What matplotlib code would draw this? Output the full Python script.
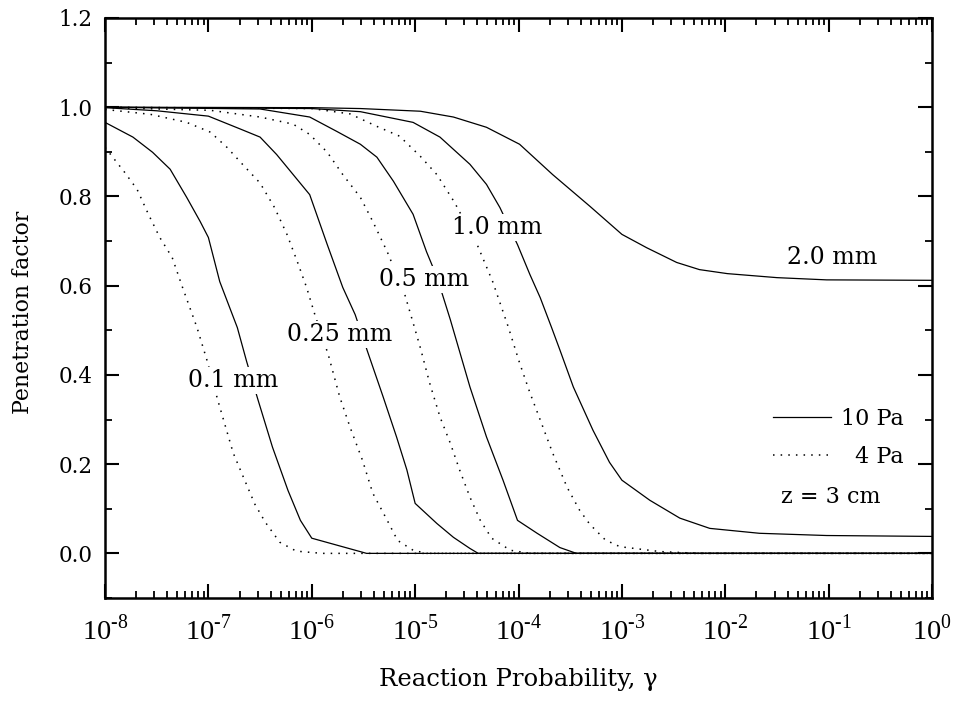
import numpy as np
import matplotlib.pyplot as plt
from matplotlib.ticker import FixedLocator, MultipleLocator, NullFormatter

plt.rcParams['font.family'] = 'DejaVu Serif'
plt.rcParams['mathtext.fontset'] = 'custom'
plt.rcParams['mathtext.rm'] = 'Liberation Serif'

# log10(gamma) and penetration factor
# 0.1 mm
lg_01_10 = [-8.0, -7.73, -7.54, -7.37, -7.21, -7.08, -7.0, -6.89, -6.72, -6.63, -6.52, -6.38, -6.23, -6.11, -6.0, -5.47, 0.0]
pf_01_10 = [0.966, 0.933, 0.899, 0.861, 0.798, 0.744, 0.708, 0.609, 0.506, 0.43, 0.344, 0.238, 0.141, 0.074, 0.034, 0.0, 0.0]
lg_01_4 = [-8.0, -7.81, -7.69, -7.58, -7.47, -7.35, -7.25, -7.11, -7.01, -6.91, -6.76, -6.66, -6.55, -6.45, -6.31, -6.15, -5.9, 0.0]
pf_01_4 = [0.91, 0.854, 0.816, 0.76, 0.708, 0.663, 0.596, 0.506, 0.43, 0.344, 0.225, 0.17, 0.11, 0.07, 0.025, 0.005, 0.0, 0.0]
# 0.25 mm
lg_025_10 = [-8.0, -7.5, -7.0, -6.69, -6.5, -6.34, -6.18, -6.02, -5.85, -5.7, -5.58, -5.46, -5.31, -5.18, -5.08, -5.0, -4.79, -4.63, -4.47, -4.39, 0.0]
pf_025_10 = [0.999, 0.992, 0.98, 0.951, 0.933, 0.894, 0.849, 0.804, 0.692, 0.596, 0.535, 0.452, 0.351, 0.261, 0.187, 0.112, 0.067, 0.036, 0.011, 0.0, 0.0]
lg_025_4 = [-8.0, -7.56, -7.21, -6.98, -6.82, -6.67, -6.5, -6.36, -6.24, -6.14, -6.05, -5.97, -5.84, -5.73, -5.63, -5.51, -5.41, -5.27, -5.17, -5.02, -4.89, 0.0]
pf_025_4 = [0.995, 0.984, 0.966, 0.944, 0.91, 0.872, 0.83, 0.775, 0.715, 0.654, 0.596, 0.535, 0.445, 0.351, 0.283, 0.209, 0.135, 0.074, 0.029, 0.007, 0.0, 0.0]
# 0.5 mm
lg_05_10 = [-8.0, -6.5, -6.02, -5.76, -5.53, -5.37, -5.21, -5.02, -4.89, -4.79, -4.66, -4.47, -4.31, -4.15, -4.01, -3.82, -3.6, -3.44, 0.0]
pf_05_10 = [1.0, 0.996, 0.978, 0.946, 0.917, 0.888, 0.834, 0.76, 0.676, 0.62, 0.524, 0.373, 0.261, 0.164, 0.074, 0.045, 0.013, 0.0, 0.0]
lg_05_4 = [-8.0, -6.98, -6.5, -6.18, -6.02, -5.85, -5.7, -5.53, -5.41, -5.27, -5.1, -5.02, -4.95, -4.86, -4.76, -4.66, -4.57, -4.47, -4.37, -4.26, -4.08, -3.89, 0.0]
pf_05_4 = [0.999, 0.993, 0.978, 0.962, 0.939, 0.899, 0.849, 0.798, 0.744, 0.676, 0.58, 0.517, 0.461, 0.382, 0.306, 0.247, 0.187, 0.126, 0.074, 0.034, 0.007, 0.0, 0.0]
# 1.0 mm
lg_10_10 = [-8.0, -6.0, -5.53, -5.02, -4.76, -4.47, -4.31, -4.18, -4.01, -3.89, -3.79, -3.68, -3.6, -3.47, -3.28, -3.12, -3.0, -2.73, -2.44, -2.15, -1.67, -1.02, 0.0]
pf_10_10 = [1.0, 0.997, 0.99, 0.966, 0.933, 0.872, 0.827, 0.775, 0.692, 0.625, 0.573, 0.506, 0.456, 0.373, 0.276, 0.204, 0.164, 0.119, 0.079, 0.056, 0.045, 0.040, 0.038]
lg_10_4 = [-8.0, -6.0, -5.63, -5.37, -5.15, -4.95, -4.79, -4.62, -4.4, -4.25, -4.1, -3.99, -3.89, -3.79, -3.67, -3.53, -3.41, -3.31, -3.16, -3.02, -2.63, -2.25, 0.0]
pf_10_4 = [1.0, 0.997, 0.985, 0.957, 0.935, 0.89, 0.849, 0.787, 0.692, 0.609, 0.508, 0.427, 0.36, 0.299, 0.225, 0.148, 0.097, 0.065, 0.03, 0.015, 0.004, 0.0, 0.0]
# 2.0 mm
lg_20_10 = [-8.0, -6.0, -5.53, -4.95, -4.63, -4.31, -3.99, -3.67, -3.31, -3.0, -2.76, -2.47, -2.25, -1.98, -1.5, -1.02, 0.0]
pf_20_10 = [1.0, 0.999, 0.997, 0.991, 0.978, 0.955, 0.917, 0.849, 0.778, 0.715, 0.685, 0.652, 0.636, 0.627, 0.618, 0.613, 0.612]

solid = [(lg_01_10, pf_01_10), (lg_025_10, pf_025_10), (lg_05_10, pf_05_10),
         (lg_10_10, pf_10_10), (lg_20_10, pf_20_10)]
dotted = [(lg_01_4, pf_01_4), (lg_025_4, pf_025_4), (lg_05_4, pf_05_4), (lg_10_4, pf_10_4)]

# curve labels: text, log10(gamma), value
labels = [('0.1 mm', -6.76, 0.387), ('0.25 mm', -5.73, 0.49), ('0.5 mm', -4.91, 0.613),
          ('1.0 mm', -4.21, 0.730), ('2.0 mm', -0.97, 0.663)]

exps = list(range(-8, 1))

fig = plt.figure(figsize=(9.59, 7.05), dpi=100)
ax = fig.add_axes([0.1095, 0.1518, 0.8624, 0.8227])

for lg, pf in solid:
    ax.plot(10 ** np.array(lg), pf, color='black', lw=0.9)
for lg, pf in dotted:
    ax.plot(10 ** np.array(lg), pf, color='black', lw=1.1, linestyle=(0, (1, 4)))

for txt, lg, v in labels:
    ax.text(10 ** lg, v, txt, fontsize=17, ha='center', va='center',
            bbox=dict(facecolor='white', edgecolor='none', pad=1.5))

h1, = ax.plot([], [], color='black', lw=0.9)
h2, = ax.plot([], [], color='black', lw=1.1, linestyle=(0, (1, 4)))
ax.legend([h1, h2], ['10 Pa', '\u20074 Pa'], loc='center left', bbox_to_anchor=(0.808, 0.276),
          frameon=False, borderpad=0, borderaxespad=0, handlelength=2.6,
          handletextpad=0.45, labelspacing=0.72, fontsize=16)
ax.text(0.878, 0.174, 'z = 3 cm', transform=ax.transAxes, ha='center', va='center', fontsize=16)

ax.set_xscale('log')
ax.set_xlim(1e-8, 1e0)
ax.set_ylim(-0.1, 1.2)
ax.set_xticks([10.0 ** e for e in exps])
ax.set_xticklabels(['$10^{\u2010%d}$' % -e if e < 0 else '$10^{%d}$' % e for e in exps])
ax.xaxis.set_minor_locator(FixedLocator([m * 10.0 ** e for e in exps[:-1] for m in range(2, 10)]))
ax.xaxis.set_minor_formatter(NullFormatter())
ax.set_yticks([0.0, 0.2, 0.4, 0.6, 0.8, 1.0, 1.2])
ax.set_yticklabels(['0.0', '0.2', '0.4', '0.6', '0.8', '1.0', '1.2'])
ax.yaxis.set_minor_locator(MultipleLocator(0.1))

ax.tick_params(which='both', direction='in', top=True, right=True)
ax.tick_params(which='major', length=10, width=1.5)
ax.tick_params(which='minor', length=5, width=1.3)
ax.tick_params(axis='y', labelsize=15.5, pad=9)
ax.tick_params(axis='x', labelsize=20.5, pad=12)
for s in ax.spines.values():
    s.set_linewidth(1.8)

ax.set_xlabel('Reaction Probability, \u03b3', fontsize=17.5)
ax.set_ylabel('Penetration factor', fontsize=15.8)
ax.xaxis.set_label_coords(0.5, -0.12)
ax.yaxis.set_label_coords(-0.086, 0.493)

fig.savefig('out.png', dpi=100)
